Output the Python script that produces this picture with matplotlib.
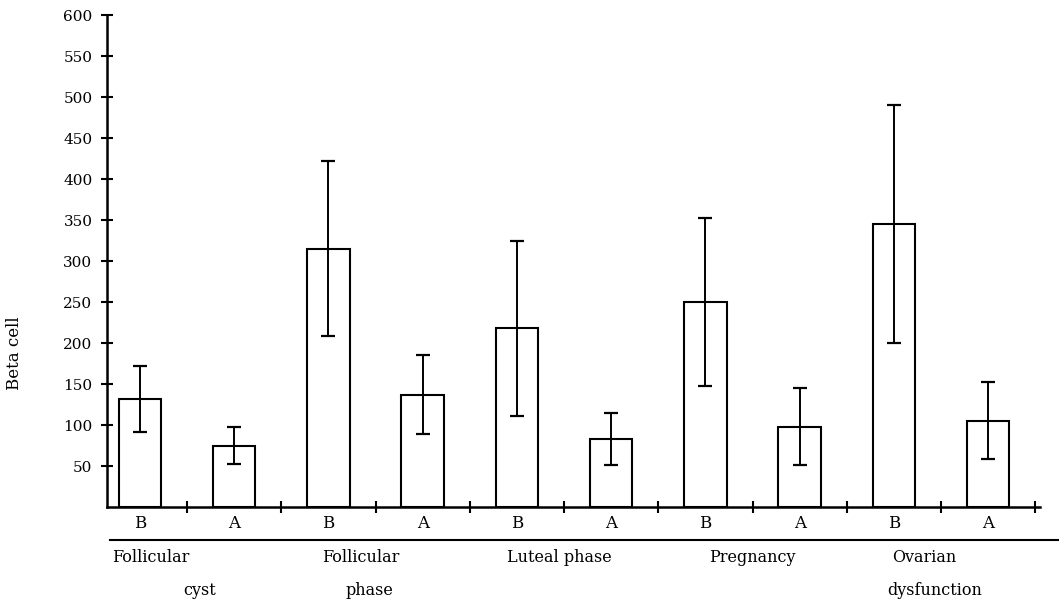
import matplotlib
matplotlib.use("Agg")
import matplotlib.pyplot as plt
import matplotlib.transforms as mtransforms
import numpy as np

# data
bar_labels = ["B", "A", "B", "A", "B", "A", "B", "A", "B", "A"]
beta_mean = [132, 75, 315, 137, 218, 83, 250, 98, 345, 105]
beta_err = [40, 22, 107, 48, 107, 32, 102, 47, 145, 47]

group_line1 = ["Follicular", "Follicular", "Luteal phase", "Pregnancy", "Ovarian"]
group_line2 = ["cyst", "phase", "", "", "dysfunction"]

# layout offsets for group text (relative to the B bar of each group)
line1_dx = [-0.30, -0.07, -0.11, 0.04, -0.02]
line2_dx = [0.63, 0.44, 0.0, 0.0, -0.07]
line2_ha = ["center", "center", "left", "left", "left"]

SERIF = ["DejaVu Serif"]


def main():
    plt.rcParams["font.family"] = SERIF

    fig = plt.figure(figsize=(10.59, 6.05), dpi=100)
    ax = fig.add_axes([0.101, 0.162, 0.881, 0.813])

    x = np.arange(len(beta_mean))

    ax.bar(
        x,
        beta_mean,
        width=0.45,
        yerr=beta_err,
        color="white",
        edgecolor="black",
        linewidth=1.5,
        error_kw=dict(ecolor="black", elinewidth=1.4, capsize=5, capthick=1.6),
    )

    ax.set_xlim(-0.35, 9.55)
    ax.set_ylim(0, 600)

    # spines
    for side in ["top", "right"]:
        ax.spines[side].set_visible(False)
    ax.spines["left"].set_linewidth(1.8)
    ax.spines["bottom"].set_linewidth(1.8)

    # y ticks
    yticks = np.arange(50, 601, 50)
    ax.set_yticks(yticks)
    ax.set_yticklabels([str(v) for v in yticks], fontsize=11)
    ax.tick_params(axis="y", direction="inout", length=9, width=1.5, pad=6)

    # separators on the baseline (one after every bar) + B/A labels
    ax.set_xticks(x + 0.5)
    ax.set_xticklabels([])
    ax.tick_params(axis="x", which="major", direction="inout", length=9, width=1.5)
    ax.set_xticks(x, minor=True)
    ax.set_xticklabels(bar_labels, minor=True, fontsize=12)
    ax.tick_params(axis="x", which="minor", length=0, pad=6)

    # underline under B/A row
    trans = mtransforms.blended_transform_factory(fig.transFigure, ax.transAxes)
    ax.plot([0.104, 1.0], [-0.067, -0.067], color="black", lw=1.5,
            transform=trans, clip_on=False)

    # group labels
    trans_g = mtransforms.blended_transform_factory(ax.transData, ax.transAxes)
    for i in range(len(group_line1)):
        xb = x[2 * i]
        ax.text(xb + line1_dx[i], -0.103, group_line1[i], fontsize=11.5,
                ha="left", va="center", transform=trans_g)
        if group_line2[i]:
            ax.text(xb + line2_dx[i], -0.169, group_line2[i], fontsize=11.5,
                    ha=line2_ha[i], va="center", transform=trans_g)

    fig.text(0.014, 1 - 353 / 605, "Beta cell", rotation=90, fontsize=12,
             ha="center", va="center")

    fig.savefig("out.png", dpi=100)


if __name__ == "__main__":
    main()
